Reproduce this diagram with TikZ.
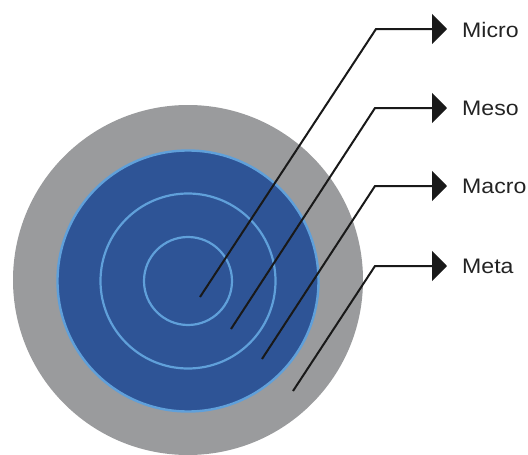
\documentclass[tikz,border=0pt]{standalone}
\usepackage{fontspec}
\setmainfont{Liberation Sans}
\usetikzlibrary{arrows.meta}
\definecolor{ringgray}{RGB}{154,155,157}
\definecolor{deepblue}{RGB}{46,84,150}
\definecolor{lightring}{RGB}{96,160,218}
\definecolor{labeltext}{RGB}{35,35,35}
\tikzset{
  lbl/.style={anchor=west, inner sep=0pt, text=labeltext, font=\fontsize{21}{25}\selectfont},
  leader/.style={draw=black!90, line width=2pt, line join=miter, -{Triangle[length=15pt,width=30pt]}},
  ring/.style={draw=lightring, line width=2.2pt}
}
\begin{document}
\begin{tikzpicture}[x=1pt,y=-1pt]
\useasboundingbox (0,0) rectangle (528,455);
% circles
\fill[ringgray] (188,280) circle (175);
\filldraw[fill=deepblue, draw=lightring, line width=2.4pt] (188,281) circle (130.5);
\draw[ring] (188,281) circle (87.5);
\draw[ring] (188,281) circle (44);
% labels
\node[lbl] (lmicro) at (462,30) {\scalebox{1.1}[1]{Micro}};
\node[lbl] (lmeso)  at (462,108) {\scalebox{1.1}[1]{Meso}};
\node[lbl] (lmacro) at (462,186) {\scalebox{1.1}[1]{Macro}};
\node[lbl] (lmeta)  at (462,266) {\scalebox{1.1}[1]{Meta}};
% leader points
\coordinate (smicro) at (200,297);
\coordinate (emicro) at (376,29);
\coordinate (smeso) at (231,329);
\coordinate (emeso) at (375,108);
\coordinate (smacro) at (262,359);
\coordinate (emacro) at (375,186);
\coordinate (smeta) at (293,391);
\coordinate (emeta) at (375,266);
\draw[leader] (smicro) -- (emicro) -- ([xshift=-15pt]emicro -| lmicro.west);
\draw[leader] (smeso) -- (emeso) -- ([xshift=-15pt]emeso -| lmeso.west);
\draw[leader] (smacro) -- (emacro) -- ([xshift=-15pt]emacro -| lmacro.west);
\draw[leader] (smeta) -- (emeta) -- ([xshift=-15pt]emeta -| lmeta.west);
\end{tikzpicture}
\end{document}
